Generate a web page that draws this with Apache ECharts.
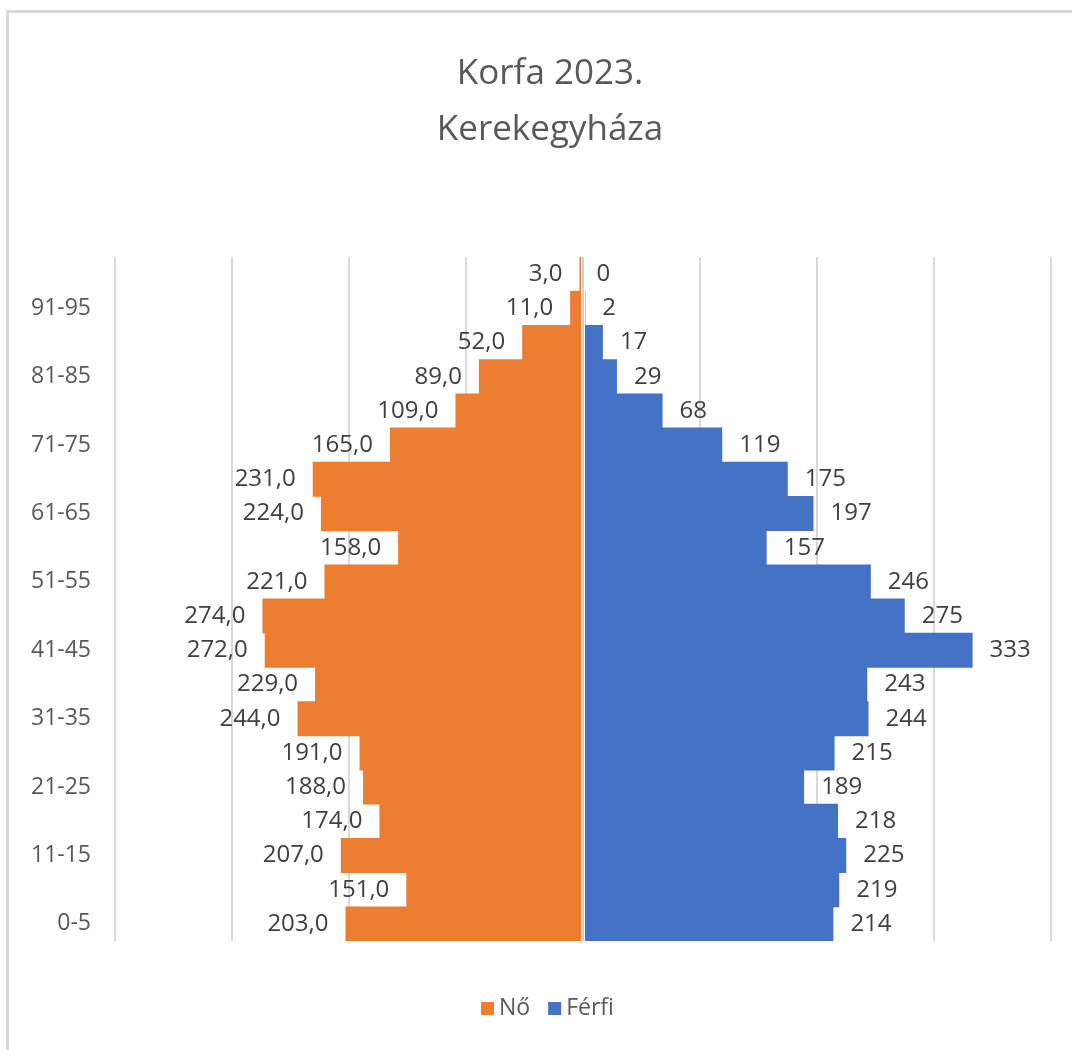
<!DOCTYPE html>
<html>
<head>
<meta charset="utf-8">
<script src="https://cdn.jsdelivr.net/npm/echarts@6/dist/echarts.min.js"></script>
<style>
  html, body { margin: 0; padding: 0; background: #fff; }
  .frame {
    position: absolute; left: 6px; top: 10px; width: 1200px; height: 1200px;
    border-left: 3px solid #d9d9d9; border-top: 3px solid #d9d9d9;
  }
  #box { position: absolute; left: 0; top: 0; width: 1072px; height: 1050px; }
</style>
</head>
<body>
<div class="frame"></div>
<div id="box"></div>
<script>
// age groups, bottom to top
const ageGroups = ['0-5', '6-10', '11-15', '16-20', '21-25', '26-30', '31-35', '36-40', '41-45', '46-50',
  '51-55', '56-60', '61-65', '66-70', '71-75', '76-80', '81-85', '86-90', '91-95', '96-'];
const women = [203, 151, 207, 174, 188, 191, 244, 229, 272, 274, 221, 158, 224, 231, 165, 109, 89, 52, 11, 3];
const men = [214, 219, 225, 218, 189, 215, 244, 243, 333, 275, 246, 157, 197, 175, 119, 68, 29, 17, 2, 0];
const gridTicks = [-400, -300, -200, -100, 0, 100, 200, 300, 400];

const FONT = '"Open Sans"';
const chart = echarts.init(document.getElementById('box'));

chart.setOption({
  backgroundColor: 'transparent',
  animation: false,
  textStyle: { fontFamily: FONT },
  title: {
    text: 'Korfa 2023.\nKerekegyháza',
    left: 545, top: 41, textAlign: 'center',
    textStyle: { fontFamily: FONT, fontSize: 35, fontWeight: 'normal', color: '#595959', lineHeight: 56 }
  },
  legend: {
    top: 997, left: 481, padding: 0,
    itemWidth: 13, itemHeight: 13, itemGap: 18,
    icon: 'rect',
    textStyle: { fontFamily: FONT, fontSize: 23, color: '#595959', padding: [0, 0, 0, 0] },
    data: ['Nő', 'Férfi']
  },
  grid: { left: 115, right: 21, top: 257, bottom: 109 },
  xAxis: {
    type: 'value',
    min: gridTicks[0], max: gridTicks[gridTicks.length - 1], interval: 100,
    axisLabel: { show: false },
    axisLine: { show: false },
    axisTick: { show: false },
    splitLine: { lineStyle: { color: '#d9d9d9', width: 2 } }
  },
  yAxis: {
    type: 'category',
    data: ageGroups,
    axisLine: { show: false, onZero: false },
    axisTick: { show: false },
    axisLabel: { interval: 1, margin: 24, fontFamily: FONT, fontSize: 23, color: '#595959' }
  },
  series: [
    {
      name: 'Nő', type: 'bar', stack: 'total',
      barWidth: 35,
      itemStyle: { color: '#ed7d31' },
      data: women.map(v => -v),
      label: {
        show: true, position: 'left', distance: 17,
        fontFamily: FONT, fontSize: 24, color: '#404040',
        formatter: p => Math.abs(p.value).toFixed(1).replace('.', ',')
      }
    },
    {
      name: 'Férfi', type: 'bar', stack: 'total',
      barWidth: 35,
      itemStyle: { color: '#4472c4' },
      data: men,
      label: {
        show: true, position: 'right', distance: 17,
        fontFamily: FONT, fontSize: 24, color: '#404040'
      },
      markLine: {
        silent: true, symbol: 'none', label: { show: false },
        data: [
          { xAxis: 0, lineStyle: { color: '#fff', width: 4, type: 'solid' } },
          { xAxis: 0, lineStyle: { color: '#d0d0d0', width: 2, type: 'solid' } }
        ]
      }
    }
  ]
});
</script>
</body>
</html>
